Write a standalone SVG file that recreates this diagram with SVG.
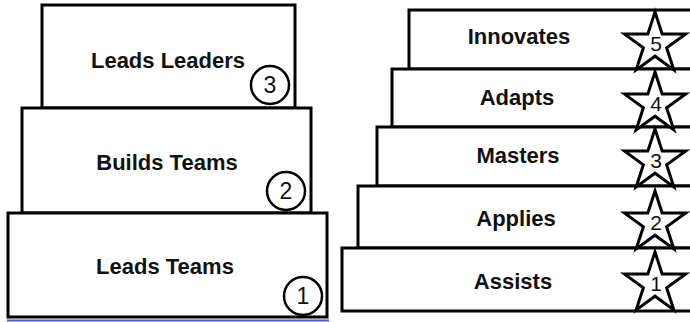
<svg xmlns="http://www.w3.org/2000/svg" width="690" height="322" viewBox="0 0 690 322">
<style>
.box{fill:#fff;stroke:#000;stroke-width:3}
.lbl{font-family:"Liberation Sans",Arial,sans-serif;font-weight:bold;font-size:22px;fill:#111;text-anchor:middle}
.num{font-family:"Liberation Sans",Arial,sans-serif;font-size:21px;fill:#111;text-anchor:middle}
.cnum{font-family:"Liberation Sans",Arial,sans-serif;font-size:23px;fill:#111;text-anchor:middle}
.circ{fill:#fff;stroke:#000;stroke-width:2.5}
.star{fill:#fff;stroke:#000;stroke-width:3;stroke-linejoin:miter}
</style>
<defs>
<polygon id="star" points="0,-32 7.19,-9.88 30.43,-9.89 11.62,3.77 18.81,25.89 0,12.22 -18.81,25.89 -11.62,3.77 -30.43,-9.89 -7.19,-9.88"/>
</defs>
<rect width="690" height="322" fill="#fff"/>
<g id="connectors"></g>
<g id="leads-leaders">
<rect class="box" x="42" y="5" width="253" height="103"/>
<text class="lbl" x="168" y="68">Leads Leaders</text>
<circle class="circ" cx="270" cy="85" r="19"/>
<text class="cnum" x="270" y="93">3</text>
</g>
<g id="builds-teams">
<rect class="box" x="22" y="108" width="289" height="105"/>
<text class="lbl" x="167" y="170">Builds Teams</text>
<circle class="circ" cx="286" cy="191" r="19"/>
<text class="cnum" x="286" y="199">2</text>
</g>
<g id="leads-teams">
<rect class="box" x="8" y="213" width="319" height="104"/>
<line x1="7" y1="320.5" x2="329" y2="320.5" stroke="#4a58d8" stroke-width="2"/>
<text class="lbl" x="165" y="274">Leads Teams</text>
<circle class="circ" cx="303" cy="296" r="19"/>
<text class="cnum" x="303" y="304">1</text>
</g>
<g id="innovates">
<rect class="box" x="409" y="10" width="300" height="59"/>
<text class="lbl" x="519" y="44">Innovates</text>
</g>
<g id="adapts">
<rect class="box" x="392" y="69" width="320" height="58"/>
<text class="lbl" x="517" y="105">Adapts</text>
</g>
<g id="masters">
<rect class="box" x="377" y="127" width="330" height="59"/>
<text class="lbl" x="518" y="163">Masters</text>
</g>
<g id="applies">
<rect class="box" x="358" y="186" width="350" height="62"/>
<text class="lbl" x="516" y="226">Applies</text>
</g>
<g id="assists">
<rect class="box" x="342" y="248" width="370" height="63"/>
<text class="lbl" x="513" y="289">Assists</text>
</g>
<g id="stars">
<use href="#star" class="star" x="655" y="44"/>
<text class="num" x="656" y="51">5</text>
<use href="#star" class="star" x="655" y="104"/>
<text class="num" x="656" y="111">4</text>
<use href="#star" class="star" x="655" y="161"/>
<text class="num" x="656" y="168">3</text>
<use href="#star" class="star" x="655" y="223"/>
<text class="num" x="656" y="230">2</text>
<use href="#star" class="star" x="655" y="284"/>
<text class="num" x="656" y="291">1</text>
</g>
</svg>
